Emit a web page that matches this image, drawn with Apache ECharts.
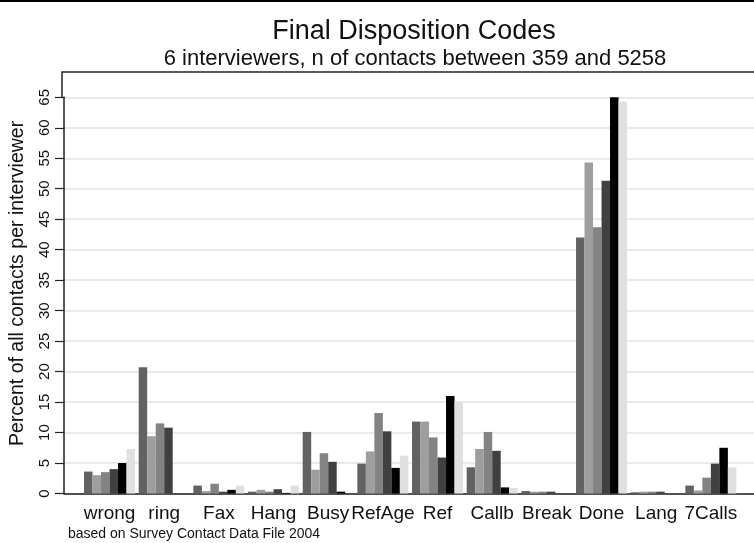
<!DOCTYPE html>
<html>
<head>
<meta charset="utf-8">
<script src="https://cdn.jsdelivr.net/npm/echarts@6/dist/echarts.min.js"></script>
<style>html,body{margin:0;padding:0;background:#fff}#c{width:754px;height:543px}</style>
</head>
<body>
<div id="c"></div>
<script>
const categories = ['wrong','ring','Fax','Hang','Busy','RefAge','Ref','Callb','Break','Done','Lang','7Calls'];
const yTicks = [0,5,10,15,20,25,30,35,40,45,50,55,60,65];
const interviewer1 = [3.6, 20.7, 1.3, 0.3, 10.1, 4.9, 11.8, 4.3, 0.4, 42.0, 0.2, 1.3];
const interviewer2 = [3.0, 9.4, 0.4, 0.6, 3.9, 6.9, 11.8, 7.3, 0.3, 54.3, 0.3, 0.5];
const interviewer3 = [3.5, 11.5, 1.6, 0.3, 6.6, 13.2, 9.2, 10.1, 0.3, 43.7, 0.3, 2.6];
const interviewer4 = [4.0, 10.8, 0.3, 0.7, 5.2, 10.2, 5.9, 7.0, 0.3, 51.3, 0.3, 4.9];
const interviewer5 = [5.0, 0, 0.6, 0.1, 0.3, 4.2, 16.0, 1.0, 0, 65.4, 0, 7.5];
const interviewer6 = [7.3, 0, 1.3, 1.3, 0, 6.2, 15.0, 0.9, 0, 64.3, 0, 4.3];
const seriesNames = ['Interviewer 1','Interviewer 2','Interviewer 3','Interviewer 4','Interviewer 5','Interviewer 6'];
const seriesColors = ['#626262','#9e9e9e','#838383','#404040','#000000','#e0e0e0'];

const FONT = 'Liberation Sans, Arial, sans-serif';
const chart = echarts.init(document.getElementById('c'), null, {renderer:'canvas'});
const allSeries = [interviewer1,interviewer2,interviewer3,interviewer4,interviewer5,interviewer6];
const TOP = 97.3, BOTTOM = 49.5;
chart.setOption({
  animation:false,
  backgroundColor:'#fff',
  title:[
    {text:'Final Disposition Codes', left:409, top:13, textAlign:'center',
     textStyle:{fontFamily:FONT, fontSize:27, fontWeight:'normal', color:'#111'}},
    {text:'6 interviewers, n of contacts between 359 and 5258', left:410, top:43, textAlign:'center',
     textStyle:{fontFamily:FONT, fontSize:22, fontWeight:'normal', color:'#111'}},
    {text:'based on Survey Contact Data File 2004', left:63, top:522,
     textStyle:{fontFamily:FONT, fontSize:14, fontWeight:'normal', color:'#111', lineHeight:15}}
  ],
  grid:[
    {left:62, right:-10, top:TOP, bottom:BOTTOM},
    {left:82.2, width:656, top:TOP, bottom:BOTTOM}
  ],
  xAxis:[
    {gridIndex:0, type:'value', min:0, max:1, axisLine:{show:true, lineStyle:{color:'#222', width:1.5}},
     axisTick:{show:false}, axisLabel:{show:false}, splitLine:{show:false}},
    {gridIndex:1, type:'category', data:categories, axisLine:{show:false}, axisTick:{show:false},
     axisLabel:{interval:0, hideOverlap:false, margin:11, fontFamily:FONT, fontSize:19, color:'#111'}}
  ],
  yAxis:[
    {gridIndex:0, type:'value', min:0, max:65, interval:5,
     axisLine:{show:true, lineStyle:{color:'#222', width:1.5}},
     axisTick:{show:true, inside:false, length:9, lineStyle:{color:'#222', width:1.2}},
     axisLabel:{rotate:90, margin:12, fontFamily:FONT, fontSize:15, color:'#111',
       formatter:function(v){return yTicks.indexOf(v)>=0 ? String(v) : '';}},
     splitLine:{show:true, lineStyle:{color:'#e3e3e3', width:1.5}},
     name:'Percent of all contacts per interviewer', nameLocation:'middle', nameGap:36, nameRotate:90,
     nameTextStyle:{fontFamily:FONT, fontSize:19.5, color:'#111', padding:[0,0,0,24]}},
    {gridIndex:1, type:'value', min:0, max:65, interval:5, show:false, splitLine:{show:false}}
  ],
  series: allSeries.map(function(d,i){
    return {type:'bar', name:seriesNames[i], xAxisIndex:1, yAxisIndex:1, data:d,
      barGap:'0%', barCategoryGap:'6.7%', itemStyle:{color:seriesColors[i]}};
  }),
  graphic:[
    {type:'line', shape:{x1:0,y1:1,x2:754,y2:1}, style:{stroke:'#000', lineWidth:2}, silent:true},
    {type:'polyline', shape:{points:[[62,TOP],[62,72],[760,72]]}, style:{stroke:'#222', lineWidth:1.5, fill:null}, silent:true}
  ]
});
</script>
</body>
</html>
